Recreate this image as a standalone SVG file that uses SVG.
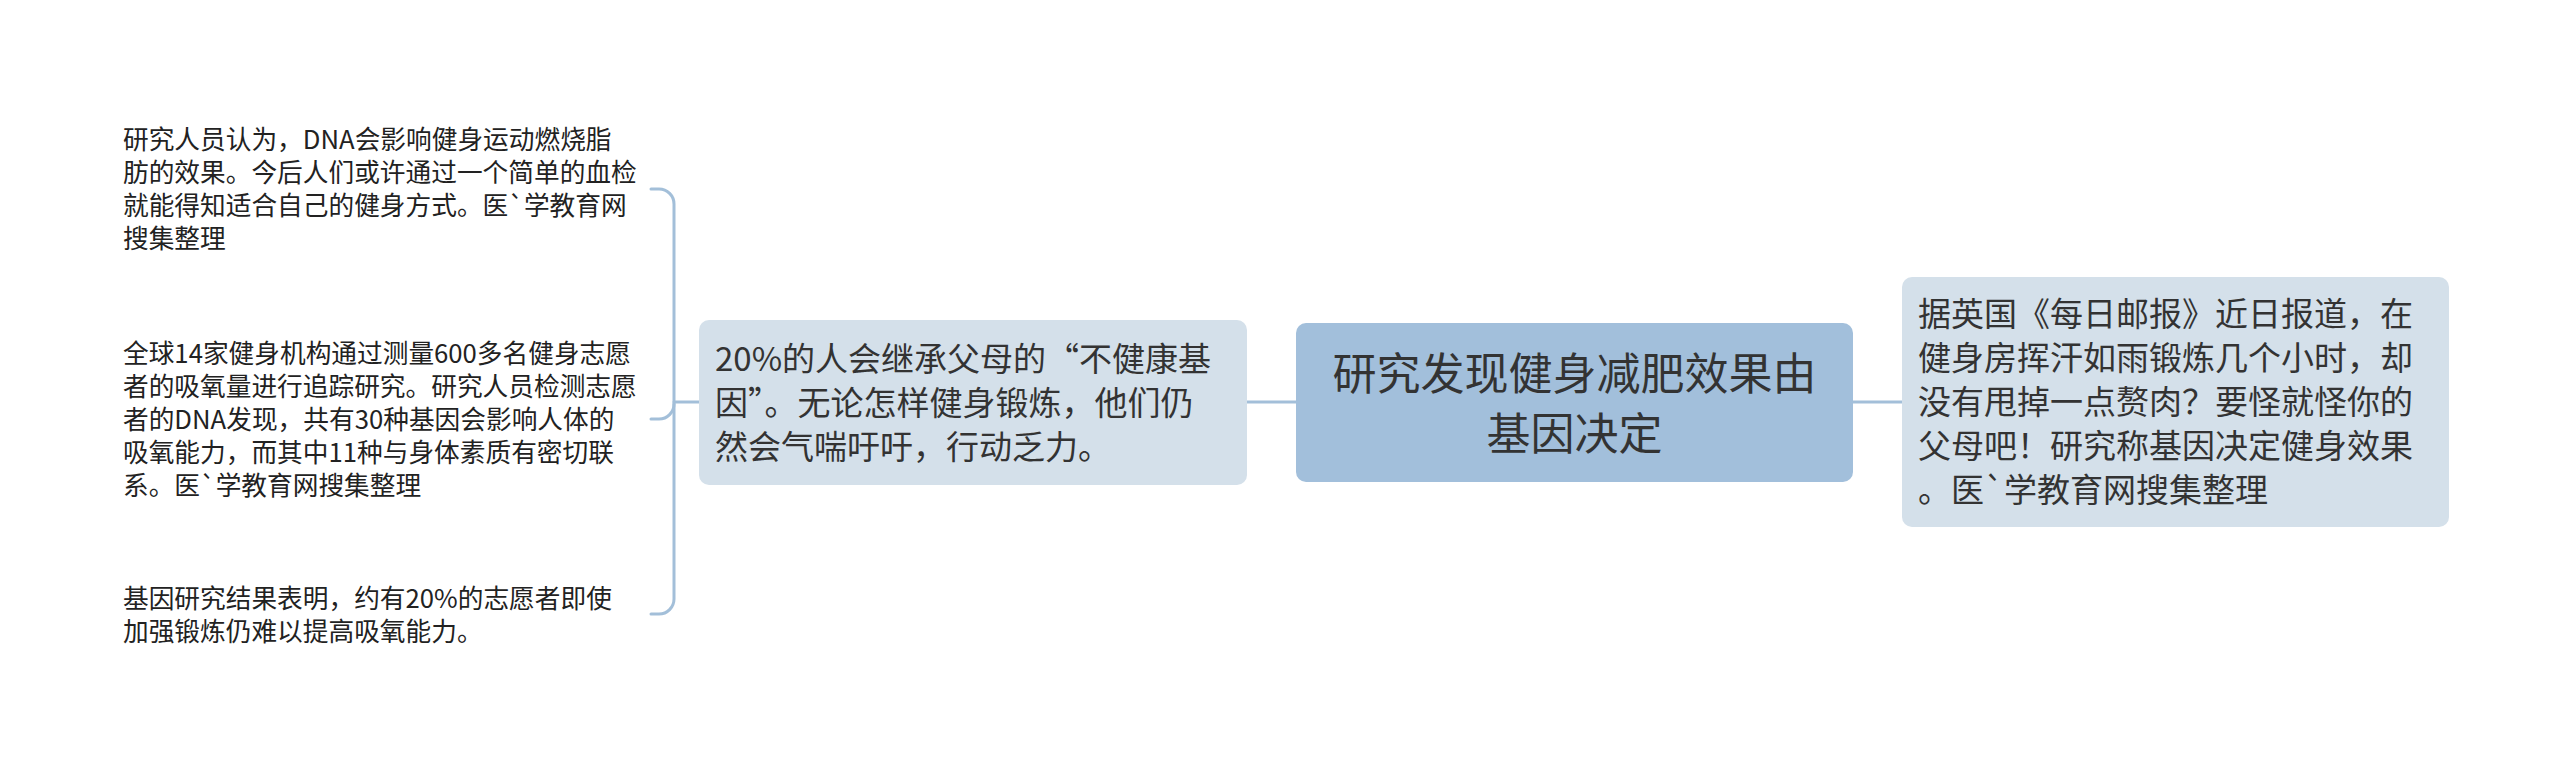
<svg xmlns="http://www.w3.org/2000/svg" width="2560" height="773" viewBox="0 0 2560 773">
<style>
.conn{fill:none;stroke:#a3bfd9;stroke-width:3;stroke-linecap:round}
.side{fill:#d4e0ea}
.center{fill:#a2bfdb}
text{font-family:"Noto Sans CJK SC","Noto Sans",sans-serif;fill:#333333}
.leaf{font-size:25.7px;fill:#222222}
.mid{font-size:33px}
.main{font-size:44px;text-anchor:middle}
</style>
<rect width="2560" height="773" fill="#ffffff"/>
<g id="connectors">
<path class="conn" d="M1247,402 H1296"/>
<path class="conn" d="M1853,402 H1902"/>
<path class="conn" d="M674,402 H699"/>
<path class="conn" d="M651,189 H659 A15,15 0 0 1 674,204 V599 A15,15 0 0 1 659,614 H651"/>
<path class="conn" d="M674,404 A15,15 0 0 1 659,419 H651"/>
</g>
<g id="node-center">
<rect class="center" x="1296" y="323" width="557" height="159" rx="10"/>
<text class="main" x="1574.5" y="390">研究发现健身减肥效果由</text>
<text class="main" x="1574.5" y="450">基因决定</text>
</g>
<g id="node-left">
<rect class="side" x="699" y="320" width="548" height="165" rx="10"/>
<text class="mid" x="715" y="370.5">20%的人会继承父母的“不健康基</text>
<text class="mid" x="715" y="414.5">因”。无论怎样健身锻炼，他们仍</text>
<text class="mid" x="715" y="458.5">然会气喘吁吁，行动乏力。</text>
</g>
<g id="node-right">
<rect class="side" x="1902" y="277" width="547" height="250" rx="10"/>
<text class="mid" x="1918" y="326">据英国《每日邮报》近日报道，在</text>
<text class="mid" x="1918" y="370">健身房挥汗如雨锻炼几个小时，却</text>
<text class="mid" x="1918" y="414">没有甩掉一点赘肉？要怪就怪你的</text>
<text class="mid" x="1918" y="458">父母吧！研究称基因决定健身效果</text>
<text class="mid" x="1918" y="502">。医`学教育网搜集整理</text>
</g>
<g id="leaf-1">
<text class="leaf" x="123" y="149.3">研究人员认为，DNA会影响健身运动燃烧脂</text>
<text class="leaf" x="123" y="182.3">肪的效果。今后人们或许通过一个简单的血检</text>
<text class="leaf" x="123" y="215.3">就能得知适合自己的健身方式。医`学教育网</text>
<text class="leaf" x="123" y="248.3">搜集整理</text>
</g>
<g id="leaf-2">
<text class="leaf" x="123" y="363.3">全球14家健身机构通过测量600多名健身志愿</text>
<text class="leaf" x="123" y="396.3">者的吸氧量进行追踪研究。研究人员检测志愿</text>
<text class="leaf" x="123" y="429.3">者的DNA发现，共有30种基因会影响人体的</text>
<text class="leaf" x="123" y="462.3">吸氧能力，而其中11种与身体素质有密切联</text>
<text class="leaf" x="123" y="495.3">系。医`学教育网搜集整理</text>
</g>
<g id="leaf-3">
<text class="leaf" x="123" y="608.3">基因研究结果表明，约有20%的志愿者即使</text>
<text class="leaf" x="123" y="641.3">加强锻炼仍难以提高吸氧能力。</text>
</g>
</svg>
